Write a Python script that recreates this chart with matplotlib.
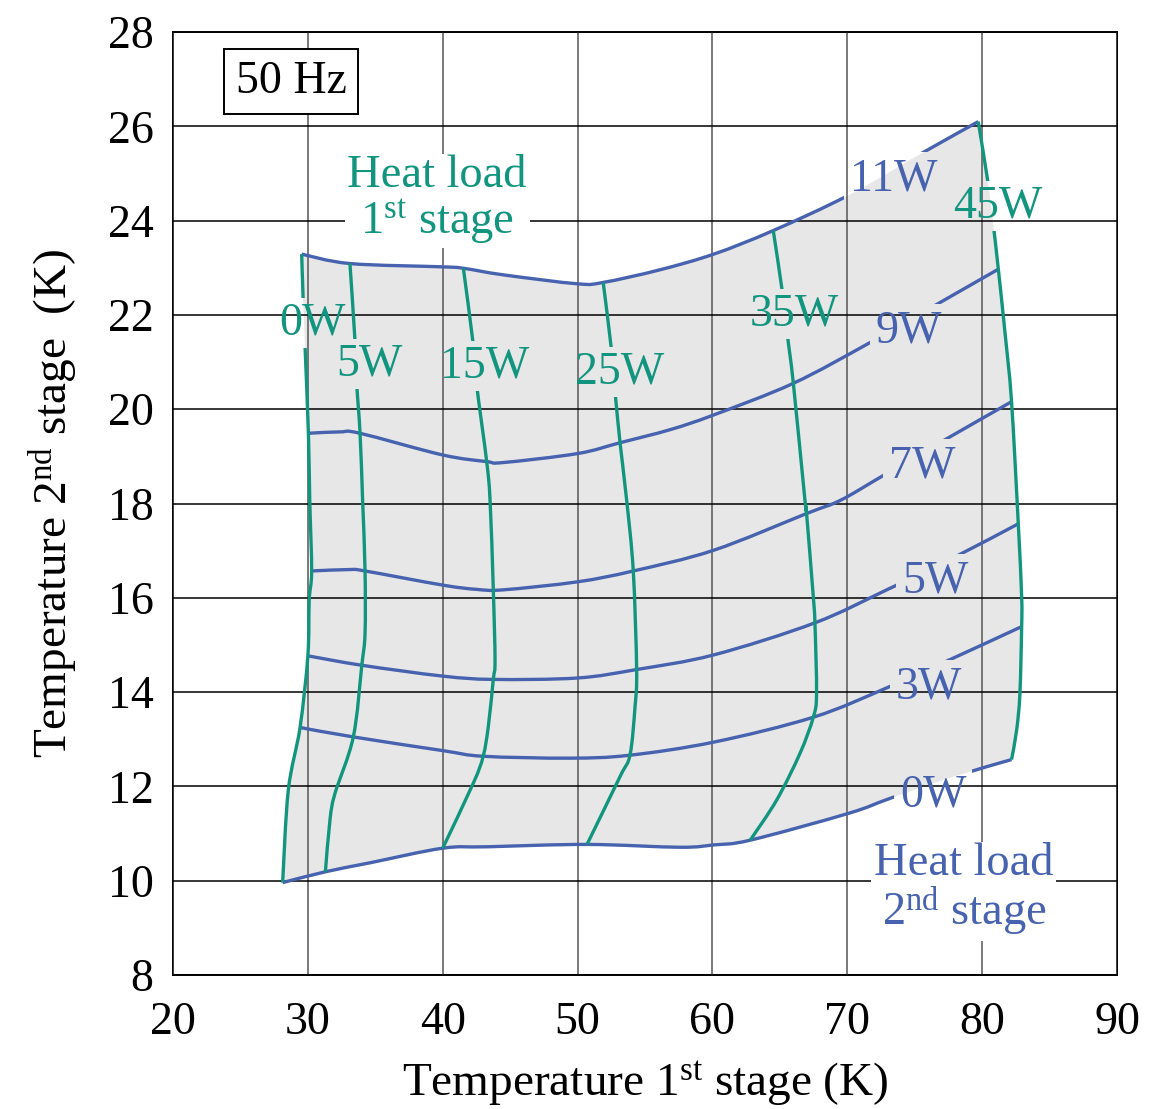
import matplotlib
matplotlib.use("Agg")
import matplotlib.pyplot as plt
from matplotlib.path import Path
from matplotlib.patches import PathPatch

plt.rcParams['font.family'] = ['Liberation Serif', 'DejaVu Serif']
plt.rcParams['mathtext.fontset'] = 'custom'
plt.rcParams['mathtext.rm'] = 'Liberation Serif'
plt.rcParams['mathtext.it'] = 'Liberation Serif:italic'

GREEN = '#12957f'
BLUE = '#4762ae'
FILL = '#e7e7e7'

# 2nd stage heat load lines (blue): 1st stage temp (K), 2nd stage temp (K)
q2_0w_t1 = [28.13, 31.3, 34.6, 40.0, 43.3, 50.7, 57.6, 60.1, 62.8, 70.1, 73.2, 77.7, 82.18]
q2_0w_t2 = [9.96, 10.19, 10.38, 10.69, 10.72, 10.77, 10.71, 10.76, 10.86, 11.43, 11.75, 12.19, 12.57]
q2_3w_t1 = [29.42, 33.37, 40.0, 43.0, 49.4, 53.8, 60.1, 67.5, 73.0, 78.0, 82.93]
q2_3w_t2 = [13.25, 13.05, 12.76, 12.64, 12.60, 12.66, 12.94, 13.47, 14.10, 14.74, 15.39]
q2_5w_t1 = [30.0, 34.0, 40.0, 43.75, 50.0, 54.38, 60.1, 67.6, 73.0, 78.0, 82.68]
q2_5w_t2 = [14.77, 14.57, 14.34, 14.27, 14.30, 14.48, 14.79, 15.47, 16.18, 16.87, 17.57]
q2_7w_t1 = [30.28, 33.1, 34.24, 40.0, 42.5, 44.5, 50.0, 54.13, 60.1, 67.0, 69.5, 72.7, 77.1, 82.18]
q2_7w_t2 = [16.57, 16.60, 16.57, 16.27, 16.18, 16.17, 16.34, 16.57, 17.01, 17.79, 18.07, 18.60, 19.33, 20.16]
q2_9w_t1 = [30.04, 32.4, 33.87, 40.0, 43.26, 44.5, 50.0, 53.15, 56.9, 60.1, 66.0, 71.6, 76.0, 81.2]
q2_9w_t2 = [19.49, 19.52, 19.49, 19.03, 18.89, 18.87, 19.06, 19.29, 19.57, 19.88, 20.55, 21.40, 22.12, 22.97]
q2_11w_t1 = [29.54, 33.12, 40.0, 41.53, 44.5, 50.0, 51.9, 56.0, 60.1, 64.51, 70.1, 75.4, 79.71]
q2_11w_t2 = [23.29, 23.09, 23.02, 22.99, 22.85, 22.66, 22.69, 22.95, 23.29, 23.79, 24.54, 25.41, 26.10]

# 1st stage heat load lines (green), top to bottom
q1_0w_t1 = [29.54, 29.66, 29.79, 30.04, 30.14, 30.28, 30.1, 30.0, 29.42, 28.55, 28.13]
q1_0w_t2 = [23.29, 22.25, 21.33, 19.49, 18.07, 16.57, 15.95, 14.77, 13.25, 11.92, 9.96]
q1_5w_t1 = [33.12, 33.5, 33.62, 33.87, 34.06, 34.24, 34.24, 34.0, 33.37, 32.01, 31.64, 31.3]
q1_5w_t2 = [23.09, 21.43, 20.55, 19.49, 18.07, 16.57, 15.25, 14.57, 13.05, 11.85, 11.29, 10.19]
q1_15w_t1 = [41.53, 42.27, 42.52, 43.26, 43.51, 43.75, 43.88, 43.75, 43.38, 43.0, 42.27, 40.0]
q1_15w_t2 = [22.99, 21.36, 20.51, 18.89, 18.07, 16.18, 14.67, 14.27, 13.27, 12.64, 12.07, 10.69]
q1_25w_t1 = [51.9, 52.53, 52.78, 53.15, 53.64, 54.13, 54.38, 54.26, 53.89, 53.15, 50.7]
q1_25w_t2 = [22.69, 21.22, 20.37, 19.29, 18.07, 16.57, 14.48, 13.69, 12.67, 12.21, 10.77]
q1_35w_t1 = [64.51, 65.2, 65.54, 66.0, 66.86, 66.98, 67.48, 67.6, 67.72, 67.48, 66.49, 64.76, 62.8]
q1_35w_t2 = [23.79, 22.46, 21.61, 20.55, 18.07, 17.79, 16.02, 15.47, 13.97, 13.47, 12.70, 11.71, 10.86]
q1_45w_t1 = [79.71, 80.46, 80.83, 81.2, 81.7, 82.18, 82.68, 82.93, 82.93, 82.8, 82.56, 82.18]
q1_45w_t2 = [26.10, 24.76, 23.91, 22.97, 21.61, 20.16, 17.57, 16.02, 15.39, 13.97, 13.20, 12.57]

# label text and where it sits on each line
q2_labels = ['0W', '3W', '5W', '7W', '9W', '11W']
q2_label_t1 = [76.36, 76.06, 76.5, 75.54, 74.58, 73.46]
q2_label_t2 = [11.82, 14.11, 16.36, 18.80, 21.66, 24.88]
q1_labels = ['0W', '5W', '15W', '25W', '35W', '45W']
q1_label_t1 = [30.31, 34.54, 43.13, 53.15, 66.05, 81.17]
q1_label_t2 = [21.83, 20.96, 20.92, 20.79, 22.02, 24.31]

q2_lines = [(q2_0w_t1, q2_0w_t2), (q2_3w_t1, q2_3w_t2), (q2_5w_t1, q2_5w_t2),
            (q2_7w_t1, q2_7w_t2), (q2_9w_t1, q2_9w_t2), (q2_11w_t1, q2_11w_t2)]
q1_lines = [(q1_0w_t1, q1_0w_t2), (q1_5w_t1, q1_5w_t2), (q1_15w_t1, q1_15w_t2),
            (q1_25w_t1, q1_25w_t2), (q1_35w_t1, q1_35w_t2), (q1_45w_t1, q1_45w_t2)]


def smooth_verts(xs, ys):
    # cubic bezier through the points (catmull-rom tangents)
    pts = list(zip(xs, ys))
    p = [pts[0]] + pts + [pts[-1]]
    verts = [pts[0]]
    for i in range(1, len(p) - 2):
        p0, p1, p2, p3 = p[i - 1], p[i], p[i + 1], p[i + 2]
        c1 = (p1[0] + (p2[0] - p0[0]) / 6, p1[1] + (p2[1] - p0[1]) / 6)
        c2 = (p2[0] - (p3[0] - p1[0]) / 6, p2[1] - (p3[1] - p1[1]) / 6)
        verts += [c1, c2, p2]
    return verts


def smooth_path(xs, ys):
    v = smooth_verts(xs, ys)
    return Path(v, [Path.MOVETO] + [Path.CURVE4] * (len(v) - 1))


fig = plt.figure(figsize=(11.65, 11.09), dpi=100)
ax = fig.add_axes([0.1485, 0.1208, 0.8103, 0.8503])
ax.set_xlim(20, 90)
ax.set_ylim(8, 28)
ax.set_xticks(range(20, 91, 10))
ax.set_yticks(range(8, 29, 2))
ax.tick_params(length=0, labelsize=33)
ax.tick_params(axis='x', pad=19)
ax.tick_params(axis='y', pad=14)
for s in ax.spines.values():
    s.set_linewidth(1.4)

ax.set_axisbelow(False)
ax.xaxis.grid(True, color='#555555', lw=1.1, zorder=2)
ax.yaxis.grid(True, color='black', lw=1.1, zorder=2)

# operating envelope: bottom, right, top, left edges
env = smooth_verts(q2_0w_t1, q2_0w_t2)
for xs, ys in [(q1_45w_t1[::-1], q1_45w_t2[::-1]),
               (q2_11w_t1[::-1], q2_11w_t2[::-1]),
               (q1_0w_t1, q1_0w_t2)]:
    env += smooth_verts(xs, ys)[1:]
env_path = Path(env, [Path.MOVETO] + [Path.CURVE4] * (len(env) - 1))
ax.add_patch(PathPatch(env_path, facecolor=FILL, edgecolor='none', zorder=1))


def gap_around(artist, label, pad=6):
    r = fig.canvas.get_renderer()
    bb = label.get_window_extent(renderer=r).padded(pad)
    inv = ax.transData.inverted()
    (x0, y0), (x1, y1) = inv.transform([[bb.x0, bb.y0], [bb.x1, bb.y1]])
    X0, X1 = ax.get_xlim()
    Y0, Y1 = ax.get_ylim()
    verts = [(X0, Y0), (X1, Y0), (X1, Y1), (X0, Y1), (X0, Y0),
             (x0, y0), (x0, y1), (x1, y1), (x1, y0), (x0, y0)]
    codes = [Path.MOVETO, Path.LINETO, Path.LINETO, Path.LINETO, Path.CLOSEPOLY] * 2
    artist.set_clip_path(Path(verts, codes), ax.transData)


for lines, labels, lxs, lys, col, pad in [
        (q2_lines, q2_labels, q2_label_t1, q2_label_t2, BLUE, 6),
        (q1_lines, q1_labels, q1_label_t1, q1_label_t2, GREEN, 4)]:
    for (xs, ys), lab, lx, ly in zip(lines, labels, lxs, lys):
        ln = ax.add_patch(PathPatch(smooth_path(xs, ys), facecolor='none', edgecolor=col,
                                    lw=2.4, joinstyle='round', zorder=3))
        t = ax.text(lx, ly, lab, color=col, fontsize=33, ha='center', va='center', zorder=4)
        gap_around(ln, t, pad)

ax.text(39.58, 24.44, 'Heat load\n1$^{\\mathrm{st}}$ stage', color=GREEN, fontsize=33.5,
        ha='center', va='center', linespacing=1.0, zorder=5,
        bbox=dict(facecolor='white', edgecolor='none', pad=2))
ax.text(78.65, 9.80, 'Heat load\n2$^{\\mathrm{nd}}$ stage', color=BLUE, fontsize=33.5,
        ha='center', va='center', linespacing=1.0, zorder=5,
        bbox=dict(facecolor='white', edgecolor='none', pad=2))

ax.text(28.75, 26.95, '50 Hz', fontsize=33, ha='center', va='center', zorder=5,
        bbox=dict(boxstyle='square,pad=0.25', facecolor='white', edgecolor='black', lw=1.4))

ax.set_xlabel('Temperature 1$^{\\mathrm{st}}$ stage (K)', fontsize=34, labelpad=11)
ax.set_ylabel('Temperature 2$^{\\mathrm{nd}}$ stage  (K)', fontsize=34, labelpad=20)

fig.savefig('out.png', dpi=100)
